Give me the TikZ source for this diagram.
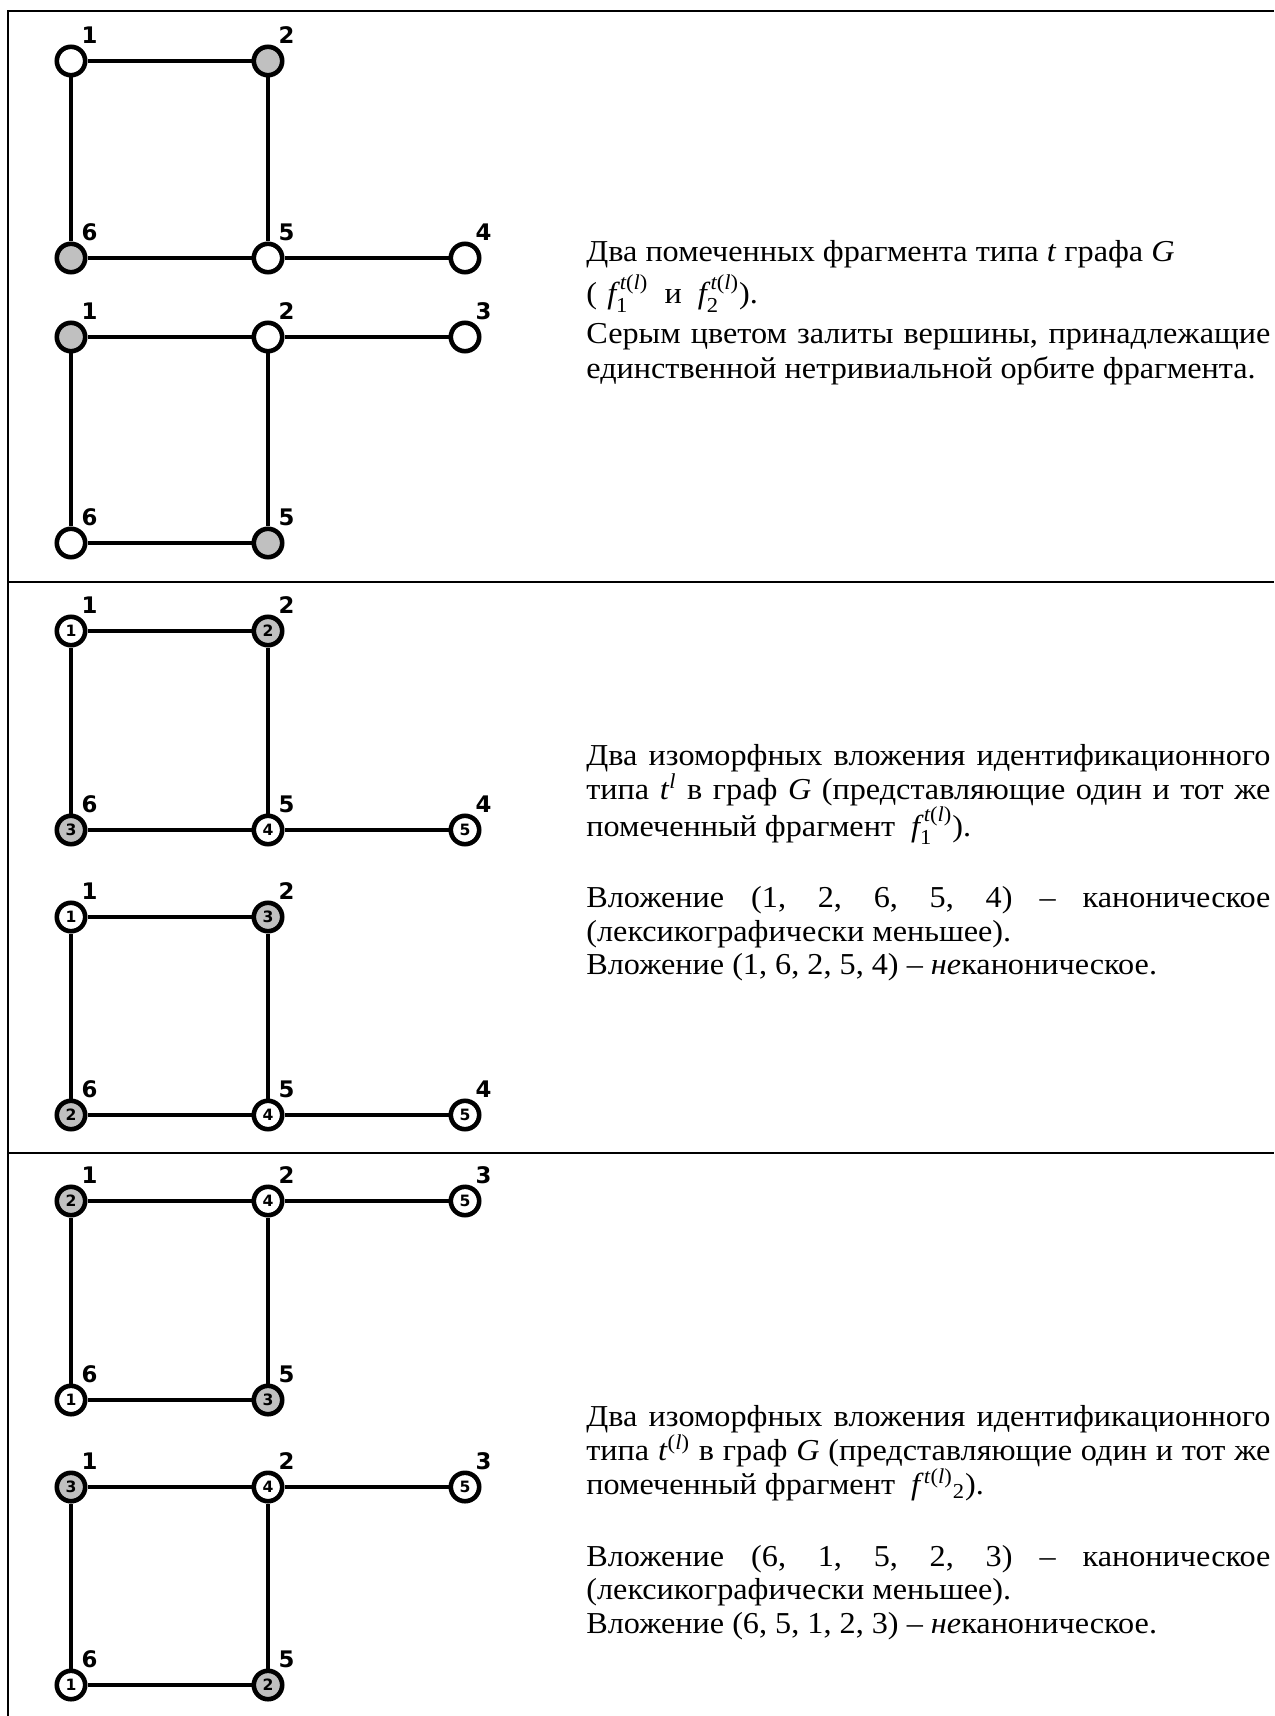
\documentclass[tikz,border=0pt]{standalone}
\usepackage{fontspec}
\usepackage{amsmath}
\setmainfont{Liberation Serif}[FakeStretch=1.06]
\newfontfamily\lblfont{DejaVu Sans}
\definecolor{vgray}{HTML}{C0C0C0}
\tikzset{
 vert/.style={circle, draw=black, line width=2.3pt, minimum size=14.2pt, inner sep=0pt, font=\lblfont\bfseries\fontsize{7.8}{8}\selectfont},
 outlbl/.style={inner sep=0pt, font=\lblfont\bfseries\fontsize{11.4}{12}\selectfont},
 edge/.style={line width=2.45pt},
 frameline/.style={line width=1pt},
 txt/.style={anchor=base west, inner sep=0pt, font=\fontsize{15.2}{17}\selectfont},
}
\newcommand\vtx[6]{\node[vert,fill=#4] (#1) at (#2,#3) {#5};\node[outlbl] (#1l) at ({#2+18.5},{#3-25.5}) {#6};}
\newcommand\JL[1]{\makebox[342pt][s]{#1}}
\newcommand\ftl[1]{\textit{f}_{\text{#1}}^{\,\text{\itshape t\upshape(\itshape l\upshape)}}}
\begin{document}
\begin{tikzpicture}[x=0.5pt,y=-0.5pt]
\useasboundingbox (0,0) rectangle (1274,1716);
% frame
\coordinate (tl) at (7.5,11);
\coordinate (tr) at (1274,11);
\coordinate (bl) at (7.5,1716);
\coordinate (d1l) at (7.5,582);
\coordinate (d1r) at (1274,582);
\coordinate (d2l) at (7.5,1153);
\coordinate (d2r) at (1274,1153);
\draw[frameline] (tr) -- (tl) -- (bl);
\draw[frameline] (d1l) -- (d1r);
\draw[frameline] (d2l) -- (d2r);
% Row 1 A
\vtx{pa1}{71}{61}{white}{}{1}
\vtx{pa2}{268}{61}{vgray}{}{2}
\vtx{pa6}{71}{258}{vgray}{}{6}
\vtx{pa5}{268}{258}{white}{}{5}
\vtx{pa4}{465}{258}{white}{}{4}
\draw[edge] (pa1) -- (pa2); \draw[edge] (pa1) -- (pa6); \draw[edge] (pa2) -- (pa5);
\draw[edge] (pa6) -- (pa5); \draw[edge] (pa5) -- (pa4);
% Row 1 B
\vtx{pb1}{71}{337}{vgray}{}{1}
\vtx{pb2}{268}{337}{white}{}{2}
\vtx{pb3}{465}{337}{white}{}{3}
\vtx{pb6}{71}{543}{white}{}{6}
\vtx{pb5}{268}{543}{vgray}{}{5}
\draw[edge] (pb1) -- (pb2); \draw[edge] (pb2) -- (pb3); \draw[edge] (pb1) -- (pb6);
\draw[edge] (pb2) -- (pb5); \draw[edge] (pb6) -- (pb5);
% Row 2 A
\vtx{qa1}{71}{631}{white}{1}{1}
\vtx{qa2}{268}{631}{vgray}{2}{2}
\vtx{qa6}{71}{830}{vgray}{3}{6}
\vtx{qa5}{268}{830}{white}{4}{5}
\vtx{qa4}{465}{830}{white}{5}{4}
\draw[edge] (qa1) -- (qa2); \draw[edge] (qa1) -- (qa6); \draw[edge] (qa2) -- (qa5);
\draw[edge] (qa6) -- (qa5); \draw[edge] (qa5) -- (qa4);
% Row 2 B
\vtx{qb1}{71}{917}{white}{1}{1}
\vtx{qb2}{268}{917}{vgray}{3}{2}
\vtx{qb6}{71}{1115}{vgray}{2}{6}
\vtx{qb5}{268}{1115}{white}{4}{5}
\vtx{qb4}{465}{1115}{white}{5}{4}
\draw[edge] (qb1) -- (qb2); \draw[edge] (qb1) -- (qb6); \draw[edge] (qb2) -- (qb5);
\draw[edge] (qb6) -- (qb5); \draw[edge] (qb5) -- (qb4);
% Row 3 A
\vtx{ra1}{71}{1201}{vgray}{2}{1}
\vtx{ra2}{268}{1201}{white}{4}{2}
\vtx{ra3}{465}{1201}{white}{5}{3}
\vtx{ra6}{71}{1400}{white}{1}{6}
\vtx{ra5}{268}{1400}{vgray}{3}{5}
\draw[edge] (ra1) -- (ra2); \draw[edge] (ra2) -- (ra3); \draw[edge] (ra1) -- (ra6);
\draw[edge] (ra2) -- (ra5); \draw[edge] (ra6) -- (ra5);
% Row 3 B
\vtx{rb1}{71}{1487}{vgray}{3}{1}
\vtx{rb2}{268}{1487}{white}{4}{2}
\vtx{rb3}{465}{1487}{white}{5}{3}
\vtx{rb6}{71}{1685}{white}{1}{6}
\vtx{rb5}{268}{1685}{vgray}{2}{5}
\draw[edge] (rb1) -- (rb2); \draw[edge] (rb2) -- (rb3); \draw[edge] (rb1) -- (rb6);
\draw[edge] (rb2) -- (rb5); \draw[edge] (rb6) -- (rb5);
% Row 1 text
\node[txt] (t11) at (586,262) {Два помеченных фрагмента типа \textit{t} графа \textit{G}};
\node[txt] (t12) at (586,304) {(\,\,$\ftl{1}$\ \ и\ \ $\ftl{2}$).};
\node[txt] (t13) at (586,344) {\JL{Серым цветом залиты вершины, принадлежащие}};
\node[txt] (t14) at (586,379) {единственной нетривиальной орбите фрагмента.};
% Row 2 text
\node[txt] (t21) at (586,765) {\JL{Два изоморфных вложения идентификационного}};
\node[txt] (t22) at (586,799) {\JL{типа \textit{t}$^{\text{\itshape l}}$ в граф \textit{G} (представляющие один и тот же}};
\node[txt] (t23) at (586,836) {помеченный фрагмент \ $\ftl{1}$).};
\node[txt] (t24) at (586,907) {\JL{Вложение (1, 2, 6, 5, 4) – каноническое}};
\node[txt] (t25) at (586,941) {(лексикографически меньшее).};
\node[txt] (t26) at (586,974) {Вложение (1, 6, 2, 5, 4) – \textit{не}каноническое.};
% Row 3 text
\node[txt] (t31) at (586,1426) {\JL{Два изоморфных вложения идентификационного}};
\node[txt] (t32) at (586,1460) {\JL{типа \textit{t}\textsuperscript{(\textit{l})} в граф \textit{G} (представляющие один и тот же}};
\node[txt] (t33) at (586,1494) {помеченный фрагмент \ \textit{f}\textsuperscript{\textit{t}(\textit{l})}\textsubscript{2}).};
\node[txt] (t34) at (586,1566) {\JL{Вложение (6, 1, 5, 2, 3) – каноническое}};
\node[txt] (t35) at (586,1599) {(лексикографически меньшее).};
\node[txt] (t36) at (586,1633) {Вложение (6, 5, 1, 2, 3) – \textit{не}каноническое.};
\end{tikzpicture}
\end{document}
